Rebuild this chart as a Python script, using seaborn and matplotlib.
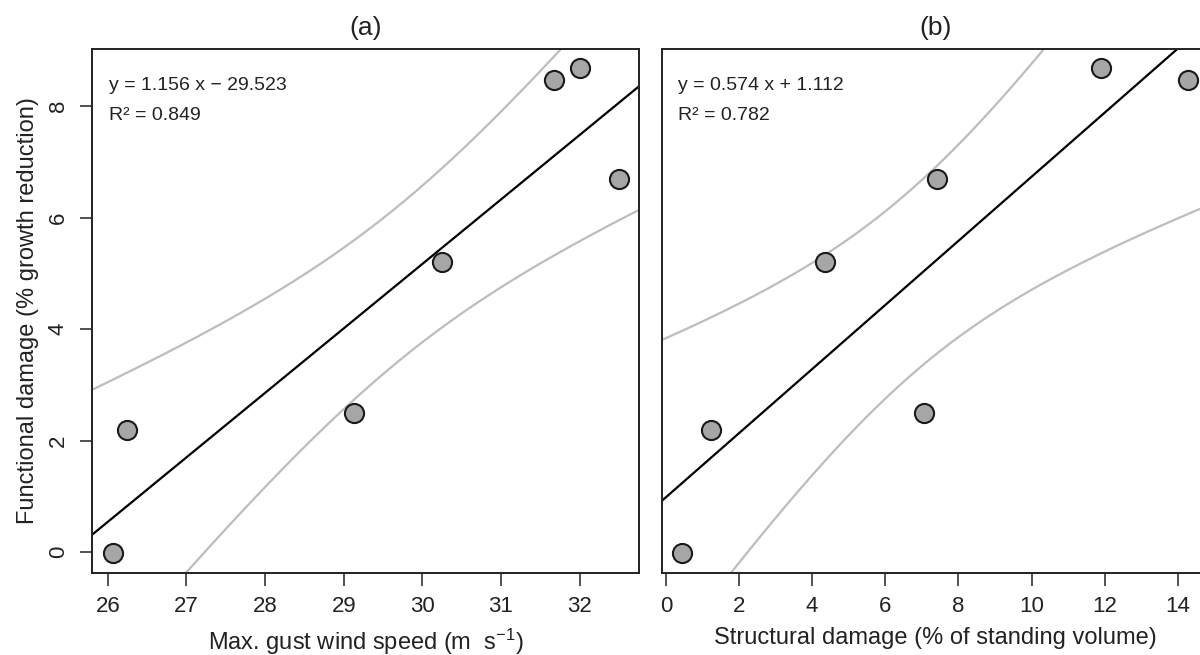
import numpy as np
import matplotlib
matplotlib.use("Agg")
import matplotlib.pyplot as plt
import seaborn as sns

# ------------------------------
# data
# ------------------------------
damage_y = [-0.02, 2.20, 2.50, 5.21, 8.47, 8.68, 6.69]
gust_x = [26.06, 26.25, 29.13, 30.25, 31.67, 32.00, 32.50]
struct_x = [0.44, 1.23, 7.06, 4.34, 14.29, 11.90, 7.41]

eq_a = ["y = 1.156 x \u2212 29.523", "R\u00b2 = 0.849"]
eq_b = ["y = 0.574 x + 1.112", "R\u00b2 = 0.782"]
titles = ["(a)", "(b)"]
xlabels = [r"Max. gust wind speed (m  s$^{-1}$)",
           "Structural damage (% of standing volume)"]
ylabel = "Functional damage (% growth reduction)"
xticks_a = [26, 27, 28, 29, 30, 31, 32]
xticks_b = [0, 2, 4, 6, 8, 10, 12, 14]
yticks = [0, 2, 4, 6, 8]

T975 = 2.5706  # t quantile, 5 df

sns.set_theme(style="ticks")
plt.rcParams["font.family"] = ["Liberation Sans", "DejaVu Sans"]
plt.rcParams["mathtext.fontset"] = "custom"
plt.rcParams["mathtext.rm"] = "Liberation Sans"
plt.rcParams["mathtext.it"] = "Liberation Sans"


def r_lims(v):
    lo, hi = min(v), max(v)
    pad = 0.04 * (hi - lo)
    return lo - pad, hi + pad


def panel(ax, x, y, eq, title, xlabel, xticks, show_ylab):
    x = np.asarray(x)
    y = np.asarray(y)
    n = len(x)
    b1, b0 = np.polyfit(x, y, 1)
    res = y - (b0 + b1 * x)
    s = np.sqrt(np.sum(res ** 2) / (n - 2))
    sxx = np.sum((x - x.mean()) ** 2)

    xl = r_lims(x)
    yl = r_lims(y)
    grid = np.linspace(xl[0] - 1, xl[1] + 1, 300)
    fit = b0 + b1 * grid
    half = T975 * s * np.sqrt(1 / n + (grid - x.mean()) ** 2 / sxx)

    ax.plot(grid, fit + half, color="#bdbdbd", lw=1.6, zorder=1)
    ax.plot(grid, fit - half, color="#bdbdbd", lw=1.6, zorder=1)
    ax.plot(grid, fit, color="black", lw=1.6, zorder=2)
    sns.scatterplot(x=x, y=y, ax=ax, s=190, color="#a6a6a6",
                    edgecolor="#1a1a1a", linewidth=1.5, zorder=3)

    ax.set_xlim(xl)
    ax.set_ylim(yl)
    ax.set_xticks(xticks)
    ax.set_yticks(yticks)
    ax.tick_params(direction="out", length=9, width=1.1, color="#222222",
                   labelsize=16, pad=8, labelcolor="#222222")
    for lab in ax.get_yticklabels():
        lab.set_rotation(90)
        lab.set_va("center")
    for sp in ax.spines.values():
        sp.set_visible(True)
        sp.set_linewidth(1.4)
        sp.set_color("#222222")

    ax.set_xlabel(xlabel, fontsize=17, color="#222222", labelpad=7)
    if show_ylab:
        ax.set_ylabel(ylabel, fontsize=17, color="#222222", labelpad=6)
    else:
        ax.set_yticklabels([])
        ax.tick_params(axis="y", length=0)
    ax.set_title(title, fontsize=19, color="#222222", pad=10)

    ax.text(0.03, 0.93, eq[0], transform=ax.transAxes, fontsize=14,
            color="#222222", va="center")
    ax.text(0.03, 0.873, eq[1], transform=ax.transAxes, fontsize=14,
            color="#222222", va="center")


fig = plt.figure(figsize=(12, 6.55), dpi=100)
ax_a = fig.add_axes([0.0769, 0.1256, 0.4558, 0.7996])
ax_b = fig.add_axes([0.5514, 0.1256, 0.4558, 0.7996])

panel(ax_a, gust_x, damage_y, eq_a, titles[0], xlabels[0], xticks_a, True)
panel(ax_b, struct_x, damage_y, eq_b, titles[1], xlabels[1], xticks_b, False)

fig.savefig("out.png", dpi=100, facecolor="white")
